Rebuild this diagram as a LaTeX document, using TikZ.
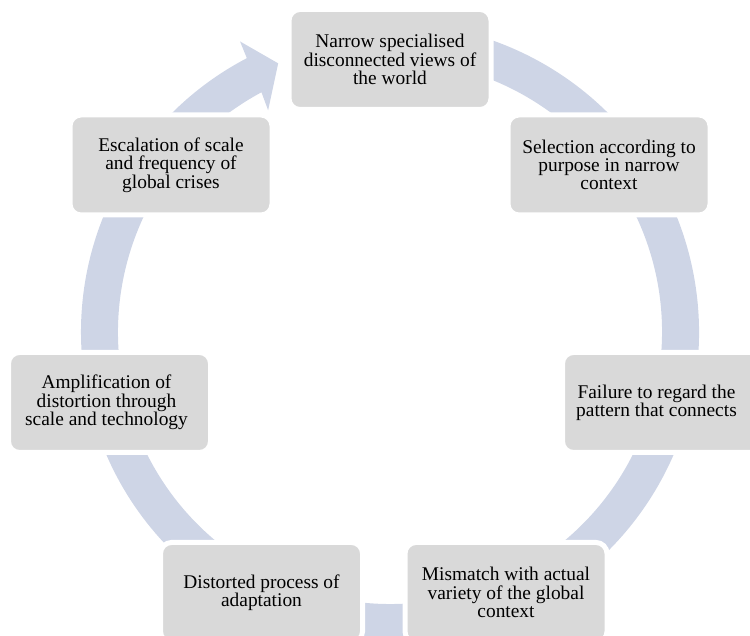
\documentclass[tikz,border=0pt]{standalone}
\usepackage{fontspec}
\setmainfont{Liberation Serif}
\definecolor{boxgray}{RGB}{217,217,217}
\definecolor{ringblue}{RGB}{206,213,230}
\tikzset{
  cyclebox/.style={draw=white, line width=5pt, fill=boxgray, rounded corners=11pt,
    minimum width=202pt, minimum height=100pt, inner sep=0pt},
  boxtext/.style={align=center, inner sep=0pt, text=black,
    font=\fontsize{19.4}{18.3}\selectfont}
}
\begin{document}
\begin{tikzpicture}[x=1pt,y=1pt]
\useasboundingbox (0,0) rectangle (750,636);
% circular arrow band
\begin{scope}[shift={(390,304)}]
\fill[ringblue] (100:309) arc[start angle=100, end angle=-242.4, radius=309]
  -- (117.3:327) -- (112.6:291) -- (118.8:253) -- (118.2:272)
  arc[start angle=-241.8, end angle=100, radius=272] -- cycle;
\end{scope}
% boxes
\node[cyclebox] (b1) at (390,576.5) {};
\node[cyclebox] (b2) at (609,471) {};
\node[cyclebox] (b3) at (663.5,233.5) {};
\node[cyclebox] (b4) at (506,43.5) {};
\node[cyclebox] (b5) at (261.5,43.5) {};
\node[cyclebox] (b6) at (109.5,233.5) {};
\node[cyclebox] (b7) at (171,471) {};
% texts
\node[boxtext] (t1) at (b1) {Narrow specialised\\disconnected views of\\the world};
\node[boxtext] (t2) at (b2) {Selection according to\\purpose in narrow\\context};
\node[boxtext] (t3) at ([xshift=-7pt]b3.center) {Failure to regard the\\pattern that connects};
\node[boxtext] (t4) at (b4) {Mismatch with actual\\variety of the global\\context};
\node[boxtext] (t5) at (b5) {Distorted process of\\adaptation};
\node[boxtext] (t6) at ([xshift=-3pt]b6.center) {Amplification of\\distortion through\\scale and technology};
\node[boxtext] (t7) at (b7) {Escalation of scale\\and frequency of\\global crises};
\end{tikzpicture}
\end{document}
